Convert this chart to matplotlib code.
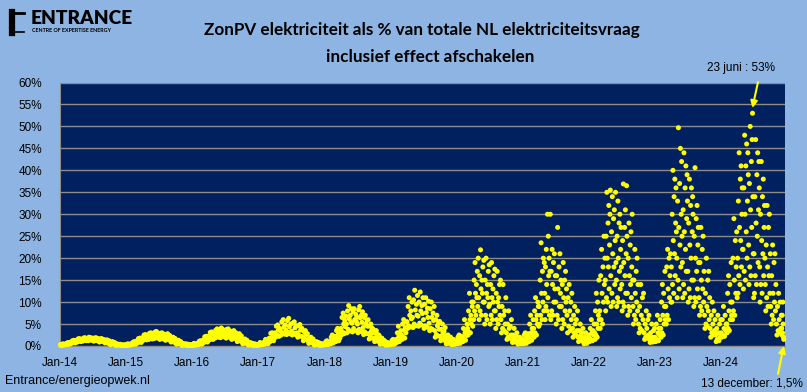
import numpy as np
import pandas as pd
import matplotlib
matplotlib.use("Agg")
import matplotlib.pyplot as plt
import matplotlib.dates as mdates
from matplotlib.ticker import FuncFormatter, MultipleLocator
from matplotlib.lines import Line2D

# daily share of solar PV (%)
y2014 = [[0.3, 0.1, 0.4, 0.2, 0.5, 0.2, 0.3, 0.4],
         [0.5, 0.3, 0.7, 0.4, 0.8, 0.6, 0.4, 0.7],
         [0.9, 0.6, 1.2, 0.8, 1.3, 1.0, 0.7, 1.1],
         [1.3, 0.9, 1.6, 1.1, 1.7, 1.4, 1.0, 1.5],
         [1.5, 1.1, 1.8, 1.3, 1.9, 1.6, 1.2, 1.7],
         [1.6, 1.2, 2.0, 1.4, 1.9, 1.7, 1.3, 1.8],
         [1.5, 1.1, 1.8, 1.3, 1.9, 1.6, 1.2, 1.7],
         [1.3, 0.9, 1.6, 1.1, 1.7, 1.4, 1.0, 1.5],
         [1.0, 0.7, 1.3, 0.8, 1.4, 1.1, 0.6, 1.2],
         [0.6, 0.3, 0.9, 0.5, 1.0, 0.7, 0.4, 0.8],
         [0.3, 0.1, 0.5, 0.2, 0.4, 0.3, 0.2, 0.4],
         [0.2, 0.1, 0.3, 0.1, 0.2, 0.1, 0.3, 0.2]]
y2015 = [[0.3, 0.1, 0.5, 0.2, 0.4, 0.2, 0.3, 0.5],
         [0.6, 0.3, 0.9, 0.5, 1.0, 0.7, 0.4, 0.8],
         [1.2, 0.7, 1.7, 1.0, 1.8, 1.4, 0.8, 1.5],
         [1.9, 1.3, 2.5, 1.6, 2.6, 2.2, 1.4, 2.3],
         [2.2, 1.5, 2.9, 1.8, 3.0, 2.5, 1.6, 2.7],
         [2.4, 1.7, 3.2, 2.0, 3.3, 2.8, 1.8, 2.9],
         [2.2, 1.5, 2.9, 1.8, 3.0, 2.5, 1.6, 2.7],
         [2.0, 1.3, 2.6, 1.6, 2.8, 2.3, 1.4, 2.4],
         [1.4, 0.9, 1.9, 1.1, 2.0, 1.6, 0.8, 1.7],
         [0.8, 0.4, 1.2, 0.6, 1.3, 0.9, 0.5, 1.0],
         [0.4, 0.1, 0.6, 0.3, 0.5, 0.3, 0.2, 0.5],
         [0.2, 0.1, 0.4, 0.1, 0.3, 0.2, 0.1, 0.3]]
y2016 = [[0.3, 0.1, 0.6, 0.2, 0.5, 0.2, 0.4, 0.5],
         [0.7, 0.3, 1.1, 0.5, 1.2, 0.8, 0.4, 0.9],
         [1.4, 0.8, 2.1, 1.1, 2.2, 1.7, 0.9, 1.8],
         [2.3, 1.4, 3.1, 1.8, 3.2, 2.7, 1.5, 2.8],
         [2.7, 1.8, 3.6, 2.2, 3.9, 3.1, 2.0, 3.4],
         [2.8, 1.9, 4.1, 2.3, 3.8, 3.2, 2.1, 3.5],
         [2.7, 1.8, 3.8, 2.2, 3.9, 3.1, 2.0, 3.4],
         [2.4, 1.5, 3.3, 1.9, 3.5, 2.8, 1.7, 3.0],
         [1.8, 1.0, 2.6, 1.3, 2.8, 2.1, 1.1, 2.3],
         [1.0, 0.5, 1.5, 0.7, 1.6, 1.1, 0.6, 1.3],
         [0.5, 0.2, 0.7, 0.3, 0.8, 0.4, 0.2, 0.6],
         [0.3, 0.1, 0.5, 0.2, 0.4, 0.2, 0.1, 0.3]]
y2017 = [[0.4, 0.2, 0.8, 0.3, 0.6, 0.3, 0.5, 0.7],
         [0.9, 0.4, 1.5, 0.7, 1.3, 1.0, 0.5, 1.2],
         [1.8, 1.0, 2.9, 1.4, 3.0, 2.3, 1.2, 2.5],
         [3.0, 2.0, 4.5, 2.5, 4.8, 3.6, 2.2, 4.0],
         [3.5, 2.5, 5.5, 3.0, 6.0, 4.3, 2.7, 4.8],
         [3.6, 2.6, 5.8, 3.1, 6.3, 4.4, 2.8, 5.0],
         [3.4, 2.5, 5.2, 2.9, 5.5, 4.1, 2.6, 4.6],
         [3.0, 2.0, 4.6, 2.4, 4.9, 3.6, 2.2, 4.0],
         [2.1, 1.2, 3.3, 1.6, 3.5, 2.6, 1.4, 2.8],
         [1.2, 0.6, 1.9, 0.9, 2.0, 1.4, 0.7, 1.6],
         [0.6, 0.2, 0.9, 0.4, 1.0, 0.5, 0.3, 0.8],
         [0.3, 0.1, 0.6, 0.2, 0.5, 0.3, 0.2, 0.4]]
y2018 = [[0.5, 0.3, 1.0, 0.4, 1.2, 0.6, 0.3, 0.8, 0.5, 0.9],
         [1.0, 0.5, 2.0, 0.8, 2.5, 1.4, 0.7, 1.7, 1.1, 2.2],
         [2.0, 1.0, 3.5, 1.5, 4.0, 2.6, 1.2, 3.0, 1.8, 3.2],
         [4.0, 2.5, 6.5, 3.2, 7.5, 5.0, 2.8, 5.8, 4.4, 6.8],
         [5.0, 3.0, 8.0, 3.8, 9.2, 6.2, 3.4, 7.0, 5.5, 8.5],
         [5.2, 3.2, 7.8, 4.0, 8.5, 6.0, 3.5, 7.2, 5.6, 6.6],
         [5.0, 3.0, 8.2, 3.8, 9.0, 6.4, 3.3, 7.0, 5.4, 7.8],
         [4.2, 2.6, 6.5, 3.2, 7.0, 5.0, 2.8, 5.8, 4.5, 6.0],
         [2.8, 1.6, 4.5, 2.2, 5.0, 3.4, 1.8, 4.0, 3.0, 3.7],
         [1.8, 1.0, 3.0, 1.3, 3.5, 2.2, 1.1, 2.6, 1.9, 2.4],
         [0.9, 0.4, 1.5, 0.6, 1.8, 1.1, 0.5, 1.3, 0.8, 1.2],
         [0.4, 0.2, 0.7, 0.3, 0.8, 0.5, 0.2, 0.6, 0.4, 0.5]]
y2019 = [[0.6, 0.3, 1.2, 0.5, 1.5, 0.8, 0.4, 1.0, 0.6, 1.3],
         [1.5, 0.8, 3.0, 1.2, 4.5, 2.2, 1.0, 2.6, 1.8, 3.5],
         [2.5, 1.5, 5.0, 2.0, 6.0, 3.6, 1.8, 4.2, 3.0, 5.5],
         [5.5, 4.0, 9.0, 4.6, 11.0, 7.0, 4.3, 8.0, 6.2, 10.0],
         [6.5, 4.2, 10.5, 5.0, 12.7, 8.2, 4.6, 9.5, 7.0, 11.5],
         [6.8, 4.5, 10.0, 5.2, 12.3, 8.0, 4.8, 9.2, 7.4, 11.0],
         [6.0, 4.0, 9.5, 4.6, 11.0, 7.6, 4.3, 8.6, 6.5, 10.2],
         [5.2, 3.5, 8.5, 4.0, 10.0, 6.5, 3.8, 7.5, 5.8, 9.0],
         [3.5, 2.0, 6.0, 2.6, 7.0, 4.6, 2.3, 5.2, 3.8, 5.6],
         [2.2, 1.2, 3.8, 1.6, 5.0, 3.0, 1.4, 3.3, 2.4, 4.2],
         [1.1, 0.5, 1.8, 0.8, 2.5, 1.4, 0.6, 1.6, 1.0, 2.0],
         [0.6, 0.3, 1.0, 0.4, 1.5, 0.8, 0.4, 0.9, 0.5, 1.2]]
y2020 = [[1.0, 0.5, 2.0, 0.8, 2.5, 1.4, 0.6, 1.7, 1.1, 2.2],
         [2.0, 1.0, 4.0, 1.5, 6.0, 3.0, 1.3, 3.5, 2.4, 5.0],
         [4.0, 2.5, 8.0, 3.2, 12.0, 6.0, 3.0, 7.0, 5.0, 10.0, 9.0, 4.5],
         [10.0, 6.0, 15.0, 8.0, 19.0, 12.0, 7.0, 14.0, 11.0, 17.0, 9.0, 20.0],
         [11.0, 6.0, 16.0, 8.0, 21.9, 13.0, 7.0, 15.0, 12.0, 18.0, 10.0, 19.5],
         [10.0, 5.0, 15.0, 7.0, 20.0, 12.0, 6.0, 14.0, 11.0, 17.0, 9.0, 18.5],
         [9.5, 5.0, 14.0, 7.0, 19.0, 11.0, 6.0, 13.0, 10.0, 16.0, 8.0, 17.5],
         [8.0, 4.0, 12.0, 6.0, 17.0, 10.0, 5.0, 11.0, 9.0, 14.0, 7.0, 15.0],
         [6.0, 3.0, 9.0, 4.0, 14.0, 7.0, 3.5, 8.0, 5.0, 11.0],
         [3.0, 1.5, 5.0, 2.0, 8.0, 4.0, 1.8, 4.5, 2.5, 6.0],
         [1.5, 0.8, 2.5, 1.0, 4.0, 2.0, 0.9, 2.2, 1.2, 3.0],
         [0.8, 0.4, 1.2, 0.6, 2.0, 1.0, 0.5, 1.1, 0.7, 1.5]]
y2021 = [[1.0, 0.5, 2.5, 0.8, 3.0, 1.5, 0.6, 2.0, 1.2, 2.8],
         [2.0, 1.0, 5.0, 1.5, 7.0, 3.0, 1.3, 4.0, 2.5, 6.0],
         [4.0, 2.0, 8.0, 3.0, 11.0, 6.0, 2.5, 7.0, 5.0, 10.0, 9.0, 4.5],
         [9.0, 5.0, 15.0, 7.0, 23.5, 12.0, 6.0, 17.0, 10.0, 20.0, 8.0, 19.0],
         [12.0, 6.0, 18.0, 9.0, 22.0, 14.0, 8.0, 30.0, 11.0, 25.0, 16.0, 20.0, 7.0, 17.0],
         [30.0, 6.0, 17.0, 8.0, 22.0, 14.0, 7.0, 19.0, 10.0, 21.0, 13.0, 16.0],
         [10.0, 5.0, 16.0, 7.0, 27.0, 13.0, 6.0, 18.0, 9.0, 21.0, 12.0, 15.0],
         [9.0, 4.0, 14.0, 6.0, 19.0, 11.0, 5.0, 15.0, 8.0, 17.0, 10.0, 13.0],
         [7.0, 3.0, 11.0, 4.5, 14.0, 8.0, 3.5, 10.0, 6.0, 12.0],
         [4.0, 2.0, 7.0, 3.0, 9.0, 5.0, 2.5, 6.0, 3.5, 8.0],
         [2.0, 1.0, 3.5, 1.5, 5.0, 2.5, 1.2, 3.0, 1.8, 4.0],
         [1.0, 0.5, 2.0, 0.8, 3.0, 1.5, 0.6, 1.7, 1.2, 2.5]]
y2022 = [[2.0, 1.0, 4.0, 1.5, 6.0, 3.0, 1.2, 3.5, 2.5, 5.0],
         [3.0, 1.5, 8.0, 2.5, 12.0, 5.0, 2.0, 10.0, 4.0, 7.0, 15.0, 6.0],
         [8.0, 4.0, 16.0, 6.0, 22.0, 12.0, 5.0, 18.0, 10.0, 25.0, 14.0, 20.0],
         [15.0, 8.0, 25.0, 11.0, 35.0, 20.0, 10.0, 28.0, 18.0, 32.0, 13.0, 23.0, 30.0, 35.5],
         [16.0, 9.0, 26.0, 12.0, 34.0, 21.0, 10.0, 29.0, 18.0, 31.0, 14.0, 24.0, 35.0, 19.0],
         [15.0, 9.0, 25.0, 11.0, 33.0, 20.0, 10.0, 28.0, 17.0, 30.0, 13.0, 22.0, 27.0, 18.0],
         [14.0, 8.0, 24.0, 10.0, 36.9, 19.0, 9.0, 27.0, 16.0, 31.0, 12.0, 21.0, 36.5, 25.0],
         [12.0, 7.0, 20.0, 9.0, 28.0, 16.0, 8.0, 23.0, 14.0, 26.0, 11.0, 18.0, 30.0, 15.0],
         [9.0, 5.0, 15.0, 7.0, 22.0, 12.0, 6.0, 17.0, 10.0, 20.0, 8.0, 14.0],
         [5.0, 3.0, 9.0, 4.0, 14.0, 7.0, 3.5, 11.0, 6.0, 12.0],
         [3.0, 1.5, 5.0, 2.0, 8.0, 4.0, 1.8, 6.0, 2.5, 7.0],
         [1.5, 0.8, 3.0, 1.0, 5.0, 2.0, 0.9, 3.5, 1.2, 4.0]]
y2023 = [[2.0, 1.0, 5.0, 1.5, 7.0, 3.0, 1.2, 4.0, 2.5, 6.0],
         [4.0, 2.0, 10.0, 3.0, 14.0, 7.0, 2.5, 12.0, 5.0, 9.0, 17.0, 6.0],
         [9.0, 5.0, 18.0, 7.0, 22.0, 13.0, 6.0, 20.0, 11.0, 16.0, 21.0, 10.0],
         [18.0, 10.0, 30.0, 14.0, 40.0, 24.0, 12.0, 34.0, 21.0, 38.0, 16.0, 28.0, 36.0, 26.0],
         [20.0, 11.0, 33.0, 15.0, 49.7, 27.0, 13.0, 37.0, 23.0, 45.0, 18.0, 30.0, 42.0, 25.0],
         [19.0, 11.0, 31.0, 14.0, 44.0, 26.0, 12.0, 36.0, 22.0, 41.0, 17.0, 29.0, 39.0, 33.0],
         [17.0, 10.0, 28.0, 13.0, 38.0, 23.0, 11.0, 32.0, 20.0, 36.0, 15.0, 26.0, 34.0, 30.0],
         [15.0, 9.0, 25.0, 11.0, 40.6, 20.0, 10.0, 29.0, 17.0, 32.0, 13.0, 23.0, 27.0, 19.0],
         [11.0, 7.0, 19.0, 9.0, 27.0, 15.0, 8.0, 22.0, 13.0, 25.0, 10.0, 17.0],
         [7.0, 4.0, 12.0, 5.0, 20.0, 9.0, 4.5, 15.0, 8.0, 17.0, 6.0, 11.0],
         [4.0, 2.0, 7.0, 3.0, 10.0, 5.0, 2.5, 8.0, 3.5, 6.0],
         [2.5, 1.0, 4.0, 1.5, 7.0, 3.0, 1.2, 5.0, 2.0, 6.0]]
y2024 = [[3.0, 2.0, 6.0, 2.5, 9.0, 4.0, 2.2, 7.0, 3.5, 5.0],
         [5.0, 3.0, 12.0, 4.0, 16.0, 8.0, 3.5, 14.0, 6.0, 10.0, 19.0, 7.0],
         [10.0, 6.0, 20.0, 8.0, 29.0, 15.0, 7.0, 24.0, 12.0, 18.0, 26.0, 11.0],
         [20.0, 12.0, 33.0, 16.0, 44.0, 27.0, 14.0, 38.0, 24.0, 41.0, 18.0, 30.0, 36.0, 22.0],
         [22.0, 13.0, 36.0, 17.0, 48.0, 30.0, 15.0, 41.0, 26.0, 46.0, 20.0, 33.0, 44.0, 39.0],
         [23.0, 14.0, 37.0, 18.0, 50.0, 31.0, 16.0, 42.0, 27.0, 47.0, 53.0, 34.0, 21.0, 11.0],
         [21.0, 12.0, 34.0, 16.0, 47.0, 28.0, 14.0, 39.0, 25.0, 44.0, 19.0, 31.0, 42.0, 36.0],
         [18.0, 10.0, 30.0, 14.0, 42.0, 24.0, 12.0, 34.0, 21.0, 38.0, 16.0, 27.0, 32.0, 20.0],
         [14.0, 8.0, 23.0, 11.0, 32.0, 18.0, 9.0, 27.0, 16.0, 30.0, 12.0, 21.0],
         [9.0, 5.0, 16.0, 7.0, 23.0, 12.0, 6.0, 19.0, 10.0, 21.0, 8.0, 14.0],
         [5.0, 2.5, 9.0, 3.5, 12.0, 6.0, 3.0, 10.0, 4.0, 7.0],
         [4.0, 2.5, 7.0, 3.0, 10.0, 5.0, 2.0, 1.5]]
years = {2014: y2014, 2015: y2015, 2016: y2016, 2017: y2017, 2018: y2018, 2019: y2019,
         2020: y2020, 2021: y2021, 2022: y2022, 2023: y2023, 2024: y2024}
last_day = pd.Timestamp("2024-12-13")

peak_label = "23 juni : 53%"
peak_date, peak_val = pd.Timestamp("2024-06-23"), 0.53
low_label = "13 december: 1,5%"
low_date, low_val = pd.Timestamp("2024-12-13"), 0.015

dates, vals = [], []
for yr, months in years.items():
    for m, mv in enumerate(months, start=1):
        start = pd.Timestamp(yr, m, 1)
        end = min(start + pd.offsets.MonthEnd(0), last_day)
        ndays = (end - start).days + 1
        for i, v in enumerate(mv):
            dates.append(start + pd.Timedelta(days=(i + 0.5) * ndays / len(mv)))
            vals.append(v / 100)

BG = "#8DB4E2"
PLOT = "#002060"
fig = plt.figure(figsize=(8.07, 3.92), dpi=100, facecolor=BG)
ax = fig.add_axes([60 / 807, 46 / 392, 725 / 807, 263.5 / 392])
ax.set_facecolor(PLOT)

ax.scatter(dates, vals, s=13, color="#FFFF00", edgecolors="none", zorder=3, clip_on=False)

ax.set_ylim(0, 0.6)
ax.yaxis.set_major_locator(MultipleLocator(0.05))
ax.yaxis.set_major_formatter(FuncFormatter(lambda v, p: f"{v*100:.0f}%"))
ax.grid(axis="y", color="#8C8C8C", lw=1)
ax.set_axisbelow(True)

ax.set_xlim(pd.Timestamp("2014-01-01"), pd.Timestamp("2024-12-20"))
ax.xaxis.set_major_locator(mdates.YearLocator())
ax.xaxis.set_major_formatter(mdates.DateFormatter("Jan-%y"))
ax.tick_params(length=0, labelsize=8.5, pad=8)
ax.tick_params(axis="y", pad=13)
for lab in ax.get_xticklabels() + ax.get_yticklabels():
    lab.set_fontfamily("Liberation Sans")
for s in ["top", "right"]:
    ax.spines[s].set_visible(False)
for s in ["left", "bottom"]:
    ax.spines[s].set_color("#8C8C8C")

fig.text(422 / 807, 1 - 30 / 392, "ZonPV elektriciteit als % van totale NL elektriciteitsvraag",
         ha="center", va="center", fontsize=12.3, fontweight="bold", family="Lato")
fig.text(430 / 807, 1 - 57 / 392, "inclusief effect afschakelen",
         ha="center", va="center", fontsize=12.3, fontweight="bold", family="Lato")

# annotations
fig.text(741 / 807, 1 - 68 / 392, peak_label, ha="center", va="center", fontsize=8.5,
         family="Liberation Sans")
ax.annotate("", xy=(peak_date, peak_val + 0.012), xycoords="data",
            xytext=(758, 392 - 82), textcoords="figure pixels",
            arrowprops=dict(arrowstyle="-|>", color="#FFFF00", lw=1.5, mutation_scale=10,
                            shrinkA=0, shrinkB=0))
fig.text(752 / 807, 1 - 383 / 392, low_label, ha="center", va="center", fontsize=8.5,
         family="Liberation Sans")
ax.annotate("", xy=(low_date, 0.0), xycoords="data",
            xytext=(778, 392 - 374), textcoords="figure pixels",
            arrowprops=dict(arrowstyle="-|>", color="#FFFF00", lw=1.5, mutation_scale=10,
                            shrinkA=0, shrinkB=0), annotation_clip=False)

fig.text(5 / 807, 1 - 381 / 392, "Entrance/energieopwek.nl", ha="left", va="center",
         fontsize=9, family="Liberation Sans")

# logo
fig.add_artist(Line2D([11.5 / 807, 11.5 / 807], [1 - 12 / 392, 1 - 33 / 392], color="black",
                      lw=4.5, transform=fig.transFigure))
fig.add_artist(Line2D([9.5 / 807, 24 / 807], [1 - 13 / 392, 1 - 13 / 392], color="black",
                      lw=2, transform=fig.transFigure))
fig.add_artist(Line2D([9.5 / 807, 24 / 807], [1 - 32 / 392, 1 - 32 / 392], color="black",
                      lw=1.2, transform=fig.transFigure))
fig.text(31 / 807, 1 - 19 / 392, "ENTRANCE", ha="left", va="center", fontsize=13.8,
         fontweight="heavy", family="Lato")
fig.text(31.5 / 807, 1 - 30.5 / 392, "CENTRE OF EXPERTISE ENERGY", ha="left", va="center",
         fontsize=3.9, fontweight="bold", family="Lato")

fig.savefig("out.png", dpi=100, facecolor=BG)
